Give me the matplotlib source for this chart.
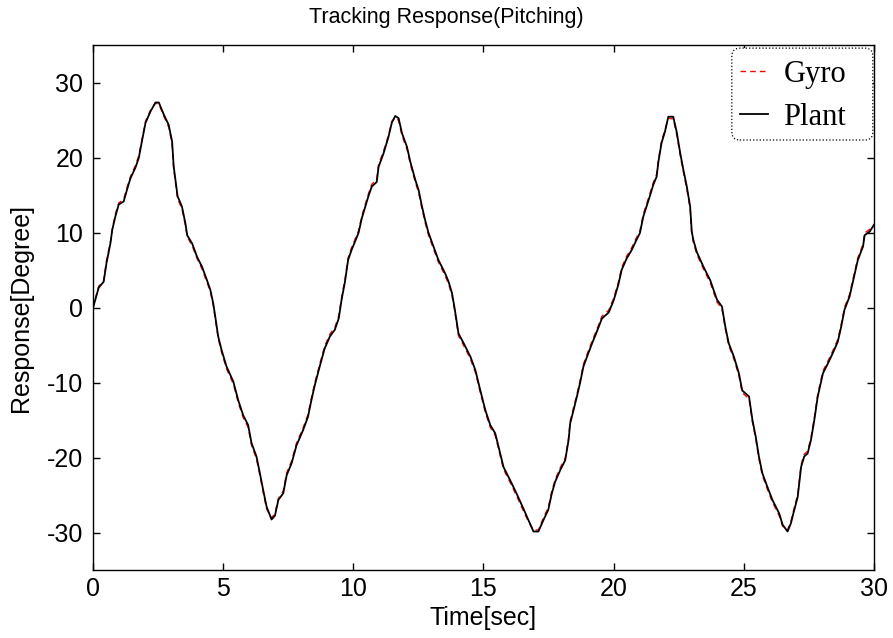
import matplotlib
matplotlib.use("Agg")
import matplotlib.pyplot as plt
from matplotlib.patches import FancyBboxPatch

# Time axis (sec)
time_sec = [
    0.00, 0.22, 0.41, 0.52, 0.67, 0.74, 0.86, 0.99, 1.18, 1.31, 1.44, 1.63, 1.76, 1.89,
    2.02, 2.21, 2.40, 2.53, 2.72, 2.91, 3.04, 3.10, 3.25, 3.42, 3.55, 3.62, 3.81, 4.00,
    4.19, 4.38, 4.51, 4.62, 4.70, 4.81, 4.94, 5.13, 5.39, 5.58, 5.77, 5.96, 6.09, 6.28,
    6.41, 6.54, 6.67, 6.86, 6.99, 7.12, 7.31, 7.44, 7.63, 7.82, 8.07, 8.26, 8.39, 8.52,
    8.71, 8.90, 9.10, 9.29, 9.44, 9.55, 9.68, 9.80, 9.93, 10.20, 10.33, 10.46, 10.58,
    10.71, 10.90, 10.97, 11.16, 11.35, 11.48, 11.61, 11.74, 11.87, 12.06, 12.19, 12.38,
    12.51, 12.64, 12.76, 12.89, 13.08, 13.27, 13.53, 13.66, 13.79, 13.90, 13.96, 14.04,
    14.24, 14.50, 14.69, 14.88, 15.07, 15.26, 15.45, 15.58, 15.77, 16.03, 16.28, 16.54,
    16.73, 16.92, 17.11, 17.30, 17.49, 17.62, 17.75, 17.95, 18.14, 18.27, 18.33, 18.46,
    18.59, 18.71, 18.84, 19.03, 19.22, 19.35, 19.55, 19.81, 20.00, 20.18, 20.31, 20.50,
    20.69, 20.88, 21.01, 21.14, 21.26, 21.39, 21.52, 21.65, 21.72, 21.84, 21.97, 22.10,
    22.29, 22.42, 22.56, 22.68, 22.81, 22.94, 23.00, 23.06, 23.19, 23.45, 23.71, 23.97,
    24.16, 24.29, 24.42, 24.62, 24.81, 24.94, 25.20, 25.33, 25.46, 25.58, 25.71, 25.90,
    26.10, 26.36, 26.49, 26.68, 26.81, 26.94, 27.07, 27.20, 27.32, 27.45, 27.58, 27.71,
    27.84, 28.04, 28.23, 28.42, 28.61, 28.74, 28.87, 29.06, 29.25, 29.38, 29.58, 29.64,
    29.84, 30.00,
]

# Plant response (deg)
plant_deg = [
    0.0, 2.7, 3.5, 6.0, 8.6, 10.4, 12.2, 13.8, 14.2, 15.8, 17.3, 18.7, 20.0, 22.4,
    24.7, 26.2, 27.4, 27.4, 25.8, 24.4, 22.2, 18.9, 14.9, 13.5, 11.3, 9.7, 8.6, 6.8,
    5.5, 3.7, 2.4, 0.6, -1.2, -3.8, -5.6, -7.8, -9.8, -12.3, -14.3, -15.6, -18.0, -19.8,
    -22.0, -24.3, -26.5, -28.2, -27.7, -25.6, -24.7, -22.3, -20.7, -18.3, -16.3, -14.5, -12.3, -10.3,
    -7.8, -5.4, -3.8, -2.9, -1.4, 1.1, 3.5, 6.4, 7.7, 10.0, 12.0, 13.5, 14.9,
    16.2, 16.8, 18.8, 20.6, 22.8, 24.7, 25.6, 25.3, 23.3, 21.5, 19.5, 17.1,
    15.7, 13.5, 11.7, 10.0, 8.2, 6.4, 4.6, 3.5, 2.0, -0.2, -1.6, -3.4,
    -4.7, -6.5, -8.3, -11.0, -13.6, -15.6, -16.7, -18.5, -21.2, -23.0, -24.8, -26.8,
    -28.3, -29.8, -29.8, -28.3, -26.9, -24.8, -23.2, -21.6, -20.3, -17.6, -15.4, -13.6,
    -11.8, -10.0, -7.8, -6.0, -4.3, -3.2, -1.4, -0.6, 1.0, 3.1, 5.1, 6.6,
    7.7, 9.1, 10.0, 12.2, 13.5, 14.9, 16.4, 17.5, 19.5, 22.0, 23.5, 25.5,
    25.5, 23.5, 20.6, 18.4, 16.2, 13.5, 10.2, 9.1, 7.5, 5.5, 3.7, 1.1,
    0.2, -2.5, -4.7, -6.5, -8.7, -11.0, -11.8, -14.9, -17.2, -19.8, -22.0, -23.8,
    -25.6, -27.4, -28.9, -29.8, -28.7, -26.9, -25.2, -21.2, -19.8, -19.4, -17.6, -14.9,
    -11.8, -8.7, -7.4, -6.0, -4.5, -2.5, -0.2, 1.5, 4.4, 6.4, 8.2, 9.7,
    10.2, 11.1,
]

# Gyro measurement (deg), nearly on top of the plant trace
gyro_deg = [
    0.0, 2.9, 3.6, 6.3, 8.8, 10.5, 12.5, 14.0, 14.5, 16.1, 17.5, 19.0, 20.3, 22.6,
    24.9, 26.4, 27.3, 27.2, 25.6, 24.1, 21.9, 18.6, 14.6, 13.2, 11.0, 9.5, 8.3, 6.6,
    5.2, 3.4, 2.2, 0.4, -1.5, -4.0, -5.9, -8.1, -10.1, -12.6, -14.6, -15.9, -18.3, -20.1,
    -22.3, -24.6, -26.8, -28.0, -27.4, -25.4, -24.4, -22.0, -20.4, -18.0, -16.0, -14.2, -12.0, -10.0,
    -7.5, -5.1, -3.5, -2.6, -1.1, 1.4, 3.8, 6.7, 8.0, 10.3, 12.3, 13.8, 15.2,
    16.5, 17.1, 19.1, 20.9, 23.0, 24.9, 25.4, 25.0, 23.0, 21.2, 19.2, 16.8,
    15.4, 13.2, 11.4, 9.7, 7.9, 6.1, 4.3, 3.2, 1.7, -0.5, -1.9, -3.7,
    -5.0, -6.8, -8.6, -11.3, -13.9, -15.9, -17.0, -18.8, -21.5, -23.3, -25.1, -27.1,
    -28.5, -29.6, -29.6, -28.0, -26.6, -24.5, -22.9, -21.3, -20.0, -17.3, -15.1, -13.3,
    -11.5, -9.7, -7.5, -5.7, -4.0, -2.9, -1.1, -0.3, 1.3, 3.4, 5.4, 6.9,
    8.0, 9.4, 10.3, 12.5, 13.8, 15.2, 16.7, 17.8, 19.8, 22.3, 23.7, 25.3,
    25.2, 23.2, 20.3, 18.1, 15.9, 13.2, 9.9, 8.8, 7.2, 5.2, 3.4, 0.8,
    -0.1, -2.8, -5.0, -6.8, -9.0, -11.3, -12.1, -15.2, -17.5, -20.1, -22.3, -24.1,
    -25.9, -27.7, -29.1, -29.6, -28.4, -26.6, -24.9, -20.9, -19.5, -19.1, -17.3, -14.6,
    -11.5, -8.4, -7.1, -5.7, -4.2, -2.2, 0.1, 1.8, 4.7, 6.7, 8.5, 10.0,
    10.5, 10.8,
]

x_ticks = [0, 5, 10, 15, 20, 25, 30]
y_ticks = [-30, -20, -10, 0, 10, 20, 30]

plt.rcParams["font.family"] = ["Liberation Sans", "DejaVu Sans"]
plt.rcParams["axes.unicode_minus"] = False

fig = plt.figure(figsize=(8.93, 6.38), dpi=100)
ax = fig.add_axes([0.1041, 0.1058, 0.8746, 0.8229])

ax.plot(time_sec, gyro_deg, color="red", linestyle="--", linewidth=1.0,
        dashes=(4, 3), label="Gyro")
ax.plot(time_sec, plant_deg, color="black", linewidth=1.3, label="Plant")

ax.set_xlim(0, 30)
ax.set_ylim(-35, 35)
ax.set_xticks(x_ticks)
ax.set_yticks(y_ticks)
ax.tick_params(axis="both", direction="in", length=5, width=1, labelsize=18,
               top=True, right=True)
ax.tick_params(axis="x", pad=4.5)
ax.tick_params(axis="y", pad=7)
for spine in ax.spines.values():
    spine.set_linewidth(1.0)

# MATLAB centres the title on the figure, not the axes
fig.text(0.5, 0.972, "Tracking Response(Pitching)", fontsize=15.5,
         ha="center", va="center")
ax.set_xlabel("Time[sec]", fontsize=18)
ax.set_ylabel("Response[Degree]", fontsize=18)
ax.xaxis.set_label_coords(0.5, -0.068)
ax.yaxis.set_label_coords(-0.077, 0.5)

# legend entries without frame, plus a dotted rounded box like MATLAB's
leg = ax.legend(loc="upper left", bbox_to_anchor=(0.8284, 0.972),
                prop={"family": "Liberation Serif", "size": 22},
                handlelength=0.92, handletextpad=0.5, borderaxespad=0,
                labelspacing=0.45, borderpad=0, frameon=False)
box = FancyBboxPatch((0.818, 0.820), 0.1805, 0.175, transform=ax.transAxes,
                     boxstyle="round,pad=0,rounding_size=0.0102",
                     mutation_aspect=1.49, facecolor="white", edgecolor="black",
                     linestyle=":", linewidth=0.9, zorder=4)
ax.add_patch(box)
leg.set_zorder(5)

fig.savefig("out.png", dpi=100)
